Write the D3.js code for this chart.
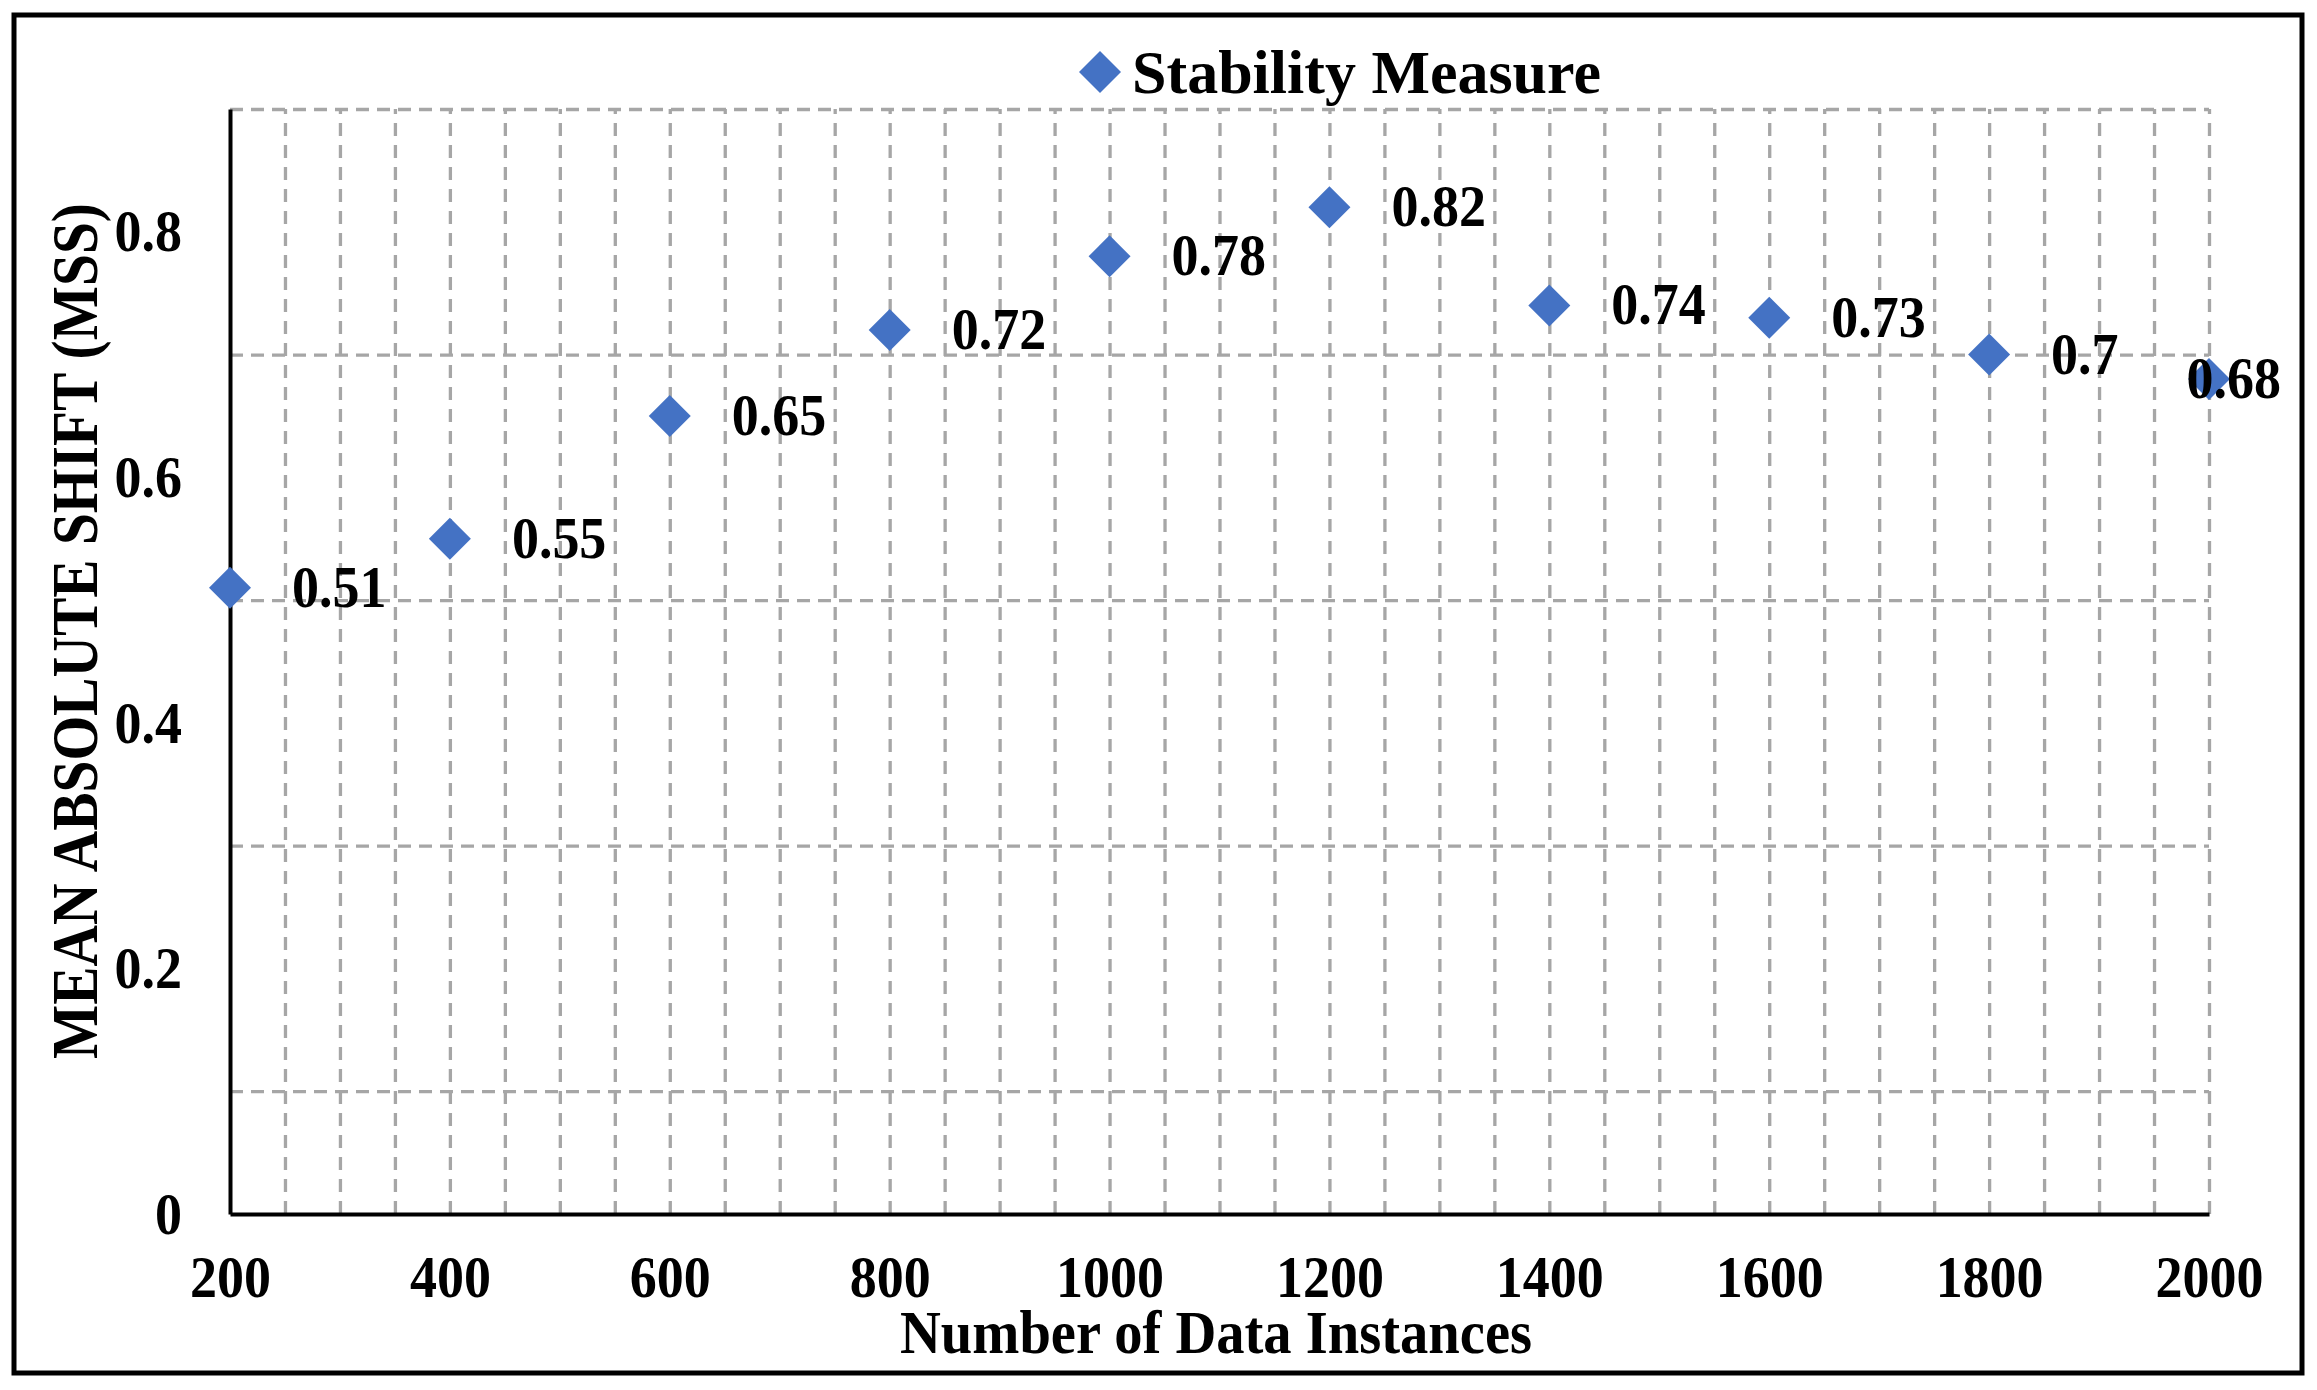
<!DOCTYPE html>
<html>
<head>
<meta charset="utf-8">
<script src="https://cdn.jsdelivr.net/npm/d3@7"></script>
<style>
  body { margin: 0; background: #fff; }
  svg { display: block; font-family: "Liberation Serif", "Times New Roman", serif; font-weight: bold; }
</style>
</head>
<body>
<svg id="chart"></svg>
<script>
const w = 2317;
const h = 1390;

// data
const instances = [200, 400, 600, 800, 1000, 1200, 1400, 1600, 1800, 2000];
const stability = [0.51, 0.55, 0.65, 0.72, 0.78, 0.82, 0.74, 0.73, 0.7, 0.68];
const xTicks = [200, 400, 600, 800, 1000, 1200, 1400, 1600, 1800, 2000];
const yTicks = [0, 0.2, 0.4, 0.6, 0.8];
const yGrid = [0.1, 0.3, 0.5, 0.7, 0.9];
const xGrid = d3.range(250, 2001, 50);

const plotLeft = 230, plotRight = 2209, plotTop = 109, plotBottom = 1214;
const squeeze = 0.9;
const blue = "#4472c4";

const svg = d3.select("#chart")
  .attr("width", w)
  .attr("height", h);

const x = d3.scaleLinear().domain([200, 2000]).range([plotLeft, plotRight]);
const y = d3.scaleLinear().domain([0, 0.9]).range([plotBottom, plotTop]);

// outer frame
svg.append("rect")
  .attr("x", 14).attr("y", 15)
  .attr("width", 2288).attr("height", 1358)
  .attr("fill", "none")
  .attr("stroke", "#000")
  .attr("stroke-width", 5);

// grid
svg.append("g")
  .attr("transform", `translate(0, ${plotBottom})`)
  .call(d3.axisBottom(x).tickValues(xGrid).tickSize(-(plotBottom - plotTop)).tickFormat(""))
  .call(g => g.select(".domain").remove())
  .selectAll("line")
  .attr("stroke", "#a6a6a6")
  .attr("stroke-width", 3.3)
  .attr("stroke-dasharray", "13,9");

svg.append("g")
  .attr("transform", `translate(${plotLeft}, 0)`)
  .call(d3.axisLeft(y).tickValues(yGrid).tickSize(-(plotRight - plotLeft)).tickFormat(""))
  .call(g => g.select(".domain").remove())
  .selectAll("line")
  .attr("stroke", "#a6a6a6")
  .attr("stroke-width", 3.3)
  .attr("stroke-dasharray", "13,8");

// axes
const xAxis = svg.append("g")
  .attr("transform", `translate(0, ${plotBottom})`)
  .call(d3.axisBottom(x).tickValues(xTicks).tickSize(0).tickSizeOuter(0).tickPadding(40).tickFormat(d3.format("d")));

const yAxis = svg.append("g")
  .attr("transform", `translate(${plotLeft}, 0)`)
  .call(d3.axisLeft(y).tickValues(yTicks).tickSize(0).tickSizeOuter(0).tickPadding(48 / squeeze).tickFormat(d => String(d)));

[xAxis, yAxis].forEach(g => {
  g.attr("font-family", null).attr("font-size", null);
  g.select(".domain").attr("stroke", "#000").attr("stroke-width", 4);
  g.selectAll("text")
    .attr("fill", "#000")
    .style("font-size", "60px")
    .attr("transform", `scale(${squeeze},1)`);
});

// points
const pts = instances.map((d, i) => ({ n: d, v: stability[i] }));
const diamond = d3.symbol(d3.symbolSquare, 882);

svg.selectAll(".pt")
  .data(pts)
  .enter()
  .append("path")
  .attr("class", "pt")
  .attr("d", diamond)
  .attr("fill", blue)
  .attr("transform", d => `translate(${x(d.n)}, ${y(d.v)}) rotate(45)`);

// data labels
const labels = svg.selectAll(".lbl")
  .data(pts)
  .enter()
  .append("text")
  .attr("class", "lbl")
  .style("font-size", "60px")
  .text(d => String(d.v));

labels.each(function(d) {
  const tw = this.getComputedTextLength() * squeeze;
  const lx = Math.min(x(d.n) + 62, 2281 - tw);
  d3.select(this).attr("transform", `translate(${lx}, ${y(d.v) + 19}) scale(${squeeze},1)`);
});

// legend
svg.append("path")
  .attr("d", diamond)
  .attr("fill", blue)
  .attr("transform", "translate(1100, 72) rotate(45)");

svg.append("text")
  .attr("x", 1132)
  .attr("y", 93)
  .style("font-size", "62px")
  .text("Stability Measure");

// axis titles
svg.append("text")
  .attr("x", 1216)
  .attr("y", 1353)
  .attr("text-anchor", "middle")
  .attr("textLength", 632)
  .attr("lengthAdjust", "spacingAndGlyphs")
  .style("font-size", "62px")
  .text("Number of Data Instances");

svg.append("text")
  .attr("transform", "translate(97, 631) rotate(-90)")
  .attr("text-anchor", "middle")
  .attr("textLength", 856)
  .attr("lengthAdjust", "spacingAndGlyphs")
  .style("font-size", "65px")
  .text("MEAN ABSOLUTE SHIFT (MSS)");
</script>
</body>
</html>
